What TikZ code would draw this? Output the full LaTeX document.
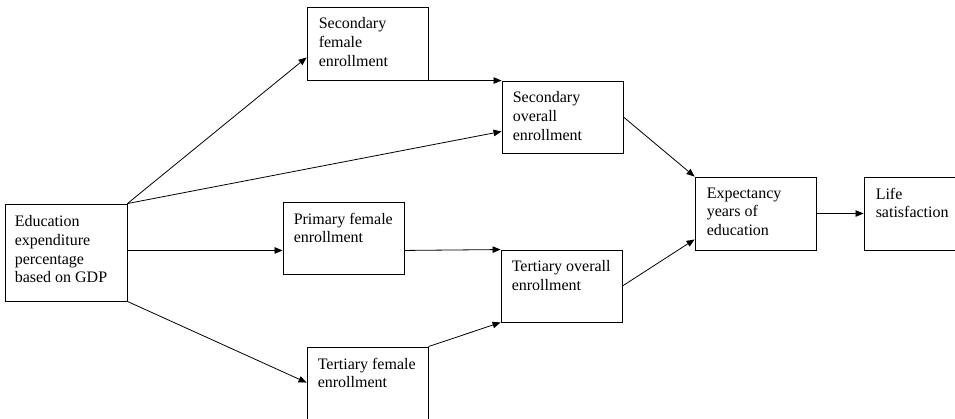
\documentclass[tikz,border=0pt]{standalone}
\usepackage{fontspec}
\setmainfont{Liberation Serif}
\usetikzlibrary{arrows.meta}
\begin{document}
\begin{tikzpicture}[x=1pt,y=1pt,
  box/.style={draw=black, line width=0.9pt, rectangle, inner sep=0pt, minimum height=73pt, minimum width=121pt},
  lbl/.style={anchor=north west, inner sep=0pt, align=left, font=\fontsize{16}{18.6}\selectfont},
  conn/.style={draw=black, line width=0.8pt, -{Triangle[length=8pt,width=6.5pt]}},
  plainline/.style={draw=black, line width=0.8pt}]
\useasboundingbox (0,0) rectangle (955,418);
\clip (0,0) rectangle (955,418);
% boxes (y = 418 - pixel y)
\node[box, minimum width=122pt, minimum height=97pt] (edu) at (66,165.5) {};
\node[box] (sf) at (367.5,374.5) {};
\node[box, minimum height=72pt] (so) at (562.5,301) {};
\node[box, minimum height=72pt] (pf) at (343.5,180) {};
\node[box, minimum height=72pt] (to) at (561.5,132) {};
\node[box] (tf) at (367.5,34.5) {};
\node[box] (ex) at (755.5,204.5) {};
\node[box, minimum width=100pt] (ls) at (914,204.5) {};
% labels
\node[lbl] (edut) at ([shift={(10,-12)}]edu.north west) {Education\\expenditure\\percentage\\based on GDP};
\node[lbl] (sft) at ([shift={(12,-11)}]sf.north west) {Secondary\\female\\enrollment};
\node[lbl] (sot) at ([shift={(11,-11)}]so.north west) {Secondary\\overall\\enrollment};
\node[lbl] (pft) at ([shift={(11,-11)}]pf.north west) {Primary female\\enrollment};
\node[lbl] (tot) at ([shift={(11,-11)}]to.north west) {Tertiary overall\\enrollment};
\node[lbl] (tft) at ([shift={(11,-11)}]tf.north west) {Tertiary female\\enrollment};
\node[lbl] (ext) at ([shift={(12,-11)}]ex.north west) {Expectancy\\years of\\education};
\node[lbl] (lst) at ([shift={(12,-11)}]ls.north west) {Life\\satisfaction};
% connector end points
\coordinate (sfin) at ([yshift=23pt]sf.south west);
\coordinate (soin) at ([yshift=22pt]so.south west);
\coordinate (pfin) at ([yshift=24pt]pf.south west);
\coordinate (pfout) at ([yshift=24pt]pf.south east);
\coordinate (tfin) at ([yshift=-36pt]tf.north west);
\coordinate (exin) at ([yshift=11pt]ex.south west);
% connectors
\draw[conn] (edu.north east) -- (sfin);
\draw[conn] (edu.north east) -- (soin);
\draw[conn] (edu.east |- pfin) -- (pfin);
\draw[conn] (edu.south east) -- (tfin);
\draw[conn] (sf.south east) -- (so.north west);
\draw[conn] (pfout) -- (to.north west);
\draw[conn] (tf.north east) -- (to.south west);
\draw[conn] (so.east) -- (ex.north west);
\draw[conn] (to.east) -- (exin);
\draw[conn] (ex.east) -- (ex.east -| ls.west);
\end{tikzpicture}
\end{document}
